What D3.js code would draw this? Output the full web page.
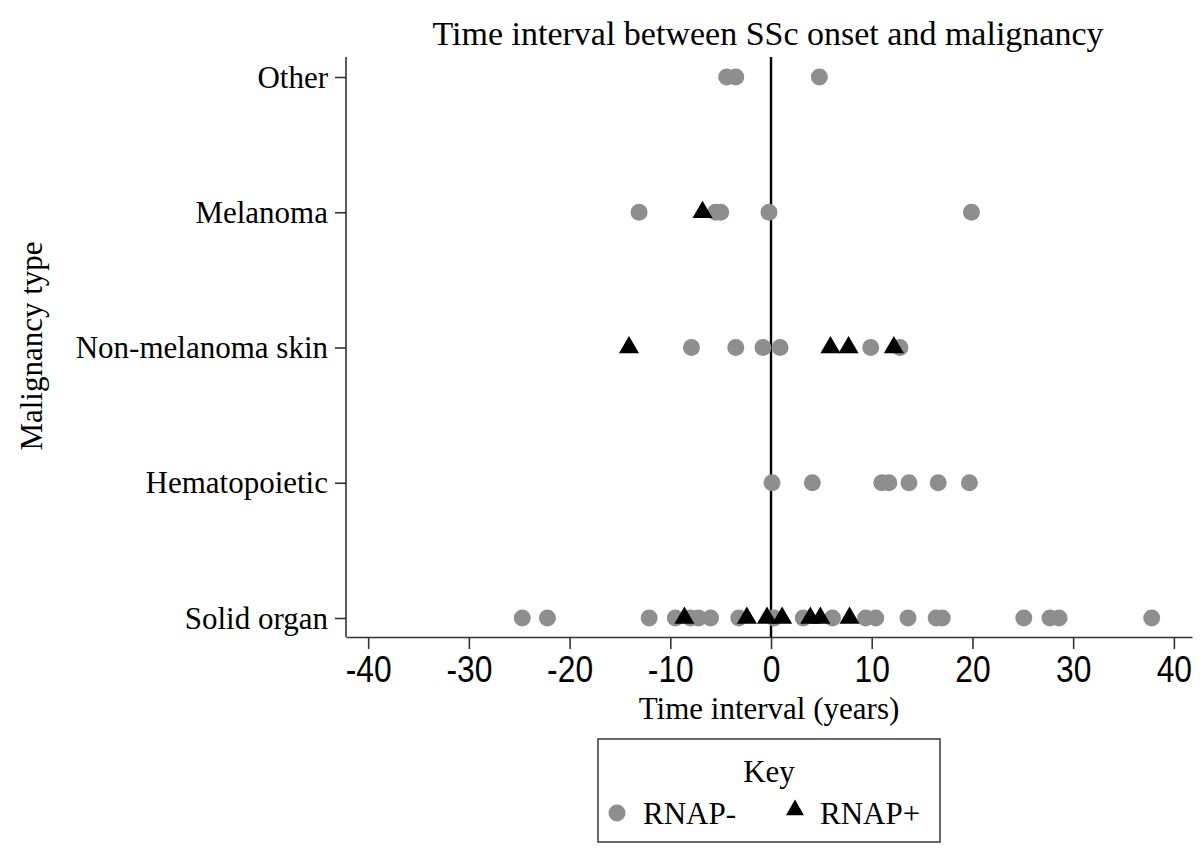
<!DOCTYPE html>
<html><head><meta charset="utf-8">
<script src="https://cdn.jsdelivr.net/npm/d3@7"></script>
<style>body{margin:0;background:#fff}svg{display:block}</style>
</head><body>
<svg id="c" width="1200" height="860"></svg>
<script>
const categories = ["Solid organ","Hematopoietic","Non-melanoma skin","Melanoma","Other"];
const xTicks = [-40,-30,-20,-10,0,10,20,30,40];
const rnapNeg = {
  "Solid organ": [-24.7,-22.2,-12.1,-9.5,-8.0,-7.2,-6.0,-3.2,0.3,3.2,6.1,9.4,10.4,13.6,16.4,17.0,25.1,27.7,28.6,37.8],
  "Hematopoietic": [0.1,4.1,11.0,11.7,13.7,16.6,19.7],
  "Non-melanoma skin": [-7.9,-3.5,-0.8,0.9,9.9,12.8],
  "Melanoma": [-13.1,-5.5,-5.0,-0.2,19.9],
  "Other": [-4.4,-3.5,4.8]
};
const rnapPos = {
  "Solid organ": [-8.6,-2.4,-0.4,1.1,3.9,4.9,7.8],
  "Hematopoietic": [],
  "Non-melanoma skin": [-14.1,5.9,7.7,12.2],
  "Melanoma": [-6.8],
  "Other": []
};
const seriesLabels = ["RNAP-","RNAP+"];

const svg = d3.select("#c");
const serif = "'Liberation Serif','Times New Roman',serif";
const sans = "'Liberation Sans',Arial,sans-serif";
const grey = "#8e8e8e";

const x = d3.scaleLinear().domain([-42.2, 41.8]).range([346, 1192]);
const y = d3.scalePoint().domain(categories).range([618, 77]);
const plotTop = 57, plotBottom = 637;

// zero line
svg.append("line").attr("x1", x(0)).attr("x2", x(0)).attr("y1", plotTop).attr("y2", plotBottom)
  .attr("stroke", "#000").attr("stroke-width", 2.4);

// x axis
const gx = svg.append("g").attr("transform", `translate(0,${plotBottom})`)
  .call(d3.axisBottom(x).tickValues(xTicks).tickSize(12).tickSizeOuter(0).tickFormat(d => String(d)));
gx.select(".domain").attr("stroke", "#333").attr("stroke-width", 1.6);
gx.selectAll(".tick line").attr("stroke", "#333").attr("stroke-width", 1.6);
gx.selectAll(".tick text").attr("font-family", sans).attr("font-size", 37).attr("fill", "#000")
  .attr("y", 45).attr("dy", 0).attr("transform", "scale(0.86,1)");

// y axis
const gy = svg.append("g").attr("transform", `translate(346,0)`)
  .call(d3.axisLeft(y).tickSize(11).tickSizeOuter(0));
gy.select(".domain").attr("d", `M0,${plotTop}V${plotBottom}`).attr("stroke", "#333").attr("stroke-width", 1.6);
gy.selectAll(".tick line").attr("stroke", "#333").attr("stroke-width", 1.6);
gy.selectAll(".tick text").attr("font-family", serif).attr("font-size", 31).attr("fill", "#000")
  .attr("x", -18).attr("dy", "0.33em");

// titles
svg.append("text").attr("x", 768).attr("y", 45).attr("text-anchor", "middle")
  .attr("font-family", serif).attr("font-size", 34).text("Time interval between SSc onset and malignancy");
svg.append("text").attr("x", 769).attr("y", 719).attr("text-anchor", "middle")
  .attr("font-family", serif).attr("font-size", 31).text("Time interval (years)");
svg.append("text").attr("transform", "translate(42,346) rotate(-90)").attr("text-anchor", "middle")
  .attr("font-family", serif).attr("font-size", 31).text("Malignancy type");

// points
const negPts = categories.flatMap(c => rnapNeg[c].map(v => ({c, v})));
const posPts = categories.flatMap(c => rnapPos[c].map(v => ({c, v})));
svg.append("g").selectAll("circle").data(negPts).join("circle")
  .attr("cx", d => x(d.v)).attr("cy", d => y(d.c)).attr("r", 8.5).attr("fill", grey);
const tri = d3.symbol().type(d3.symbolTriangle).size(175);
svg.append("g").selectAll("path").data(posPts).join("path")
  .attr("d", tri).attr("transform", d => `translate(${x(d.v)},${y(d.c)})`).attr("fill", "#000");

// legend
const lg = svg.append("g");
lg.append("rect").attr("x", 598).attr("y", 739).attr("width", 342).attr("height", 103)
  .attr("fill", "#fff").attr("stroke", "#444").attr("stroke-width", 1.6);
lg.append("text").attr("x", 769).attr("y", 782).attr("text-anchor", "middle")
  .attr("font-family", serif).attr("font-size", 31).text("Key");
lg.append("circle").attr("cx", 617).attr("cy", 813).attr("r", 8.5).attr("fill", grey);
lg.append("text").attr("x", 643).attr("y", 824).attr("font-family", serif).attr("font-size", 31).text(seriesLabels[0]);
lg.append("path").attr("d", d3.symbol().type(d3.symbolTriangle).size(140)).attr("transform", "translate(795,810)").attr("fill", "#000");
lg.append("text").attr("x", 820).attr("y", 824).attr("font-family", serif).attr("font-size", 31).text(seriesLabels[1]);
</script>
</body></html>
